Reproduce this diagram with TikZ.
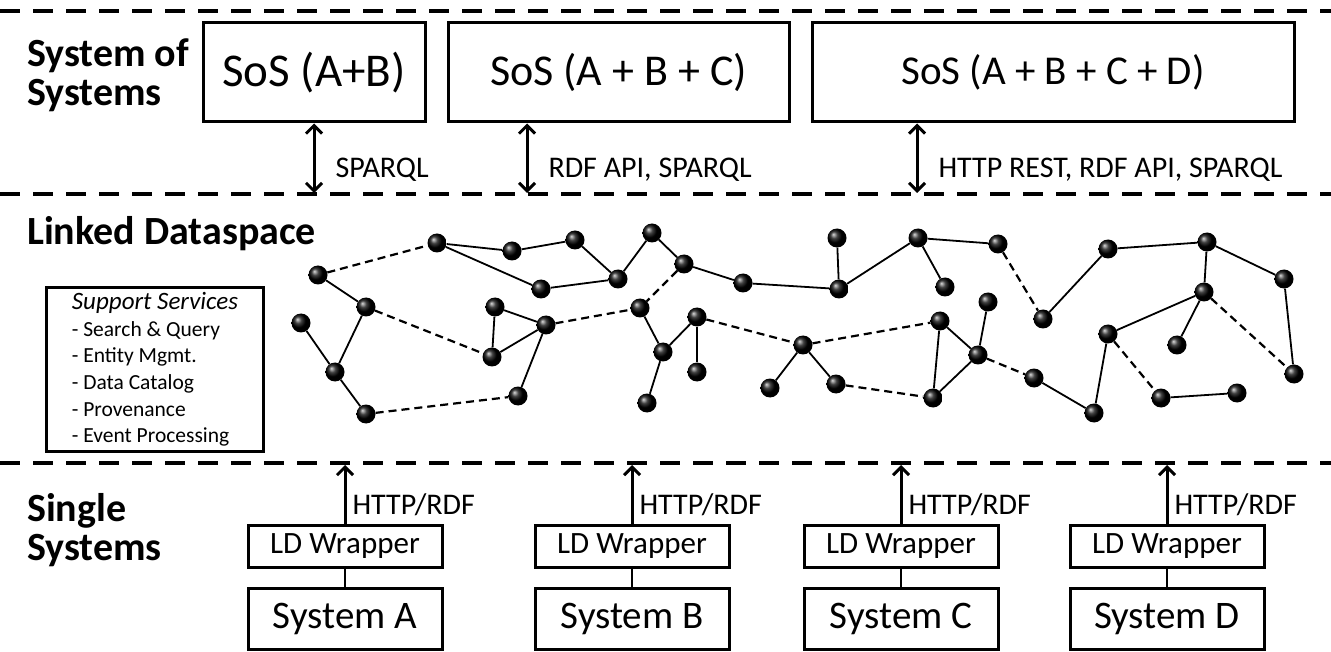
\documentclass[tikz,border=0pt]{standalone}
\usepackage{fontspec}
\setmainfont{Carlito}
\usepackage{tikz}
\usetikzlibrary{positioning,arrows.meta}
\tikzstyle{sosbox} = [rectangle, minimum width=222pt, minimum height=99pt, text centered, draw=black, line width=3pt, font=\fontsize{44}{50}\selectfont]
\tikzstyle{wrapper} = [rectangle, minimum width=194pt, minimum height=42pt, text centered, draw=black, line width=3pt, font=\fontsize{31}{36}\selectfont]
\tikzstyle{sysbox} = [rectangle, minimum width=194pt, minimum height=61pt, text centered, draw=black, line width=3pt, font=\fontsize{39}{44}\selectfont]
\tikzstyle{support} = [rectangle, anchor=north west, draw=black, line width=3pt, align=left, minimum width=217pt, inner xsep=10pt, inner ysep=5pt, minimum height=162pt, font=\fontsize{21.5}{26.6}\selectfont]
\tikzstyle{layer} = [anchor=base west, align=left, inner sep=0pt, font=\bfseries\fontsize{40}{39}\selectfont]
\tikzstyle{proto} = [inner sep=0pt, font=\fontsize{30}{36}\selectfont]
\tikzstyle{separator} = [line width=3.5pt, dash pattern=on 20pt off 13pt]
\tikzstyle{dblarrow} = [line width=3pt, {Straight Barb[length=8pt,width=16pt]}-{Straight Barb[length=8pt,width=16pt]}]
\tikzstyle{uparrow} = [line width=3pt, -{Straight Barb[length=8pt,width=16pt]}]
\tikzstyle{stem} = [line width=2.5pt]
\tikzstyle{datanode} = [circle, minimum size=19pt, inner sep=0pt, shading=ball, ball color=black]
\tikzstyle{link} = [line width=1.8pt]
\tikzstyle{weaklink} = [line width=2.2pt, dash pattern=on 8pt off 5pt]

\begin{document}
\begin{tikzpicture}[x=1pt, y=-1pt]

	\useasboundingbox (0,0) rectangle (1331,652);

	% layers
	\draw [separator] (0,11) -- (1331,11);
	\draw [separator] (0,194) -- (1331,194);
	\draw [separator] (0,463) -- (1331,463);
	\coordinate (midSep) at (0,193);
	\coordinate (lowSep) at (0,465);

	\node (sysOfSys) [layer] at (27,106) {System of\\Systems};
	\node (linkedDS) [layer] at (27,245) {Linked Dataspace};
	\node (singleSys) [layer] at (27,560) {Single\\Systems};

	% system of systems
	\node (sosAB) [sosbox, font=\fontsize{47}{50}\selectfont] at (314,72.5) {SoS (A+B)};
	\node (sosABC) [sosbox, minimum width=341pt, right=20pt of sosAB] {SoS (A + B + C)};
	\node (sosABCD) [sosbox, minimum width=482pt, right=20pt of sosABC, font=\fontsize{41}{50}\selectfont] {SoS (A + B + C + D)};

	\coordinate (abcLink) at (527,193);
	\coordinate (abcdLink) at (917,193);

	\draw [dblarrow] (sosAB.south) -- node [proto, pos=0.67, right=20pt] {SPARQL} (sosAB.south |- midSep);
	\draw [dblarrow] (abcLink |- sosABC.south) -- node [proto, pos=0.67, right=20pt] {RDF API, SPARQL} (abcLink);
	\draw [dblarrow] (abcdLink |- sosABCD.south) -- node [proto, pos=0.67, right=20pt] {HTTP REST, RDF API, SPARQL} (abcdLink);

	% linked dataspace
	\node (support) [support] at (45,286) {{\fontsize{25}{26.6}\selectfont\itshape Support Services}\\- Search \& Query\\- Entity Mgmt.\\- Data Catalog\\- Provenance\\- Event Processing};

	\node (dot01) [datanode] at (318,275) {};
	\node (dot02) [datanode] at (437,243) {};
	\node (dot03) [datanode] at (512,251) {};
	\node (dot04) [datanode] at (541,289) {};
	\node (dot05) [datanode] at (366,307) {};
	\node (dot06) [datanode] at (301,323) {};
	\node (dot07) [datanode] at (335,372) {};
	\node (dot08) [datanode] at (366,414) {};
	\node (dot09) [datanode] at (495,307) {};
	\node (dot10) [datanode] at (546,325) {};
	\node (dot11) [datanode] at (492,357) {};
	\node (dot12) [datanode] at (518,396) {};
	\node (dot13) [datanode] at (575,240) {};
	\node (dot14) [datanode] at (618,279) {};
	\node (dot15) [datanode] at (652,233) {};
	\node (dot16) [datanode] at (684,264) {};
	\node (dot17) [datanode] at (743,283) {};
	\node (dot18) [datanode] at (640,308) {};
	\node (dot19) [datanode] at (697,317) {};
	\node (dot20) [datanode] at (663,352) {};
	\node (dot21) [datanode] at (697,372) {};
	\node (dot22) [datanode] at (647,403) {};
	\node (dot23) [datanode] at (803,345) {};
	\node (dot24) [datanode] at (770,388) {};
	\node (dot25) [datanode] at (839,289) {};
	\node (dot26) [datanode] at (836,384) {};
	\node (dot27) [datanode] at (940,321) {};
	\node (dot28) [datanode] at (837,238) {};
	\node (dot29) [datanode] at (918,238) {};
	\node (dot30) [datanode] at (998,244) {};
	\node (dot31) [datanode] at (945,287) {};
	\node (dot32) [datanode] at (1043,319) {};
	\node (dot33) [datanode] at (988,302) {};
	\node (dot34) [datanode] at (978,355) {};
	\node (dot35) [datanode] at (933,398) {};
	\node (dot36) [datanode] at (1034,378) {};
	\node (dot37) [datanode] at (1108,249) {};
	\node (dot38) [datanode] at (1094,413) {};
	\node (dot39) [datanode] at (1207,242) {};
	\node (dot40) [datanode] at (1284,279) {};
	\node (dot41) [datanode] at (1204,292) {};
	\node (dot42) [datanode] at (1108,334) {};
	\node (dot43) [datanode] at (1177,345) {};
	\node (dot44) [datanode] at (1294,374) {};
	\node (dot45) [datanode] at (1161,398) {};
	\node (dot46) [datanode] at (1237,393) {};

	\draw [link] (dot01) -- (dot05);
	\draw [link] (dot05) -- (dot07);
	\draw [link] (dot06) -- (dot07);
	\draw [link] (dot07) -- (dot08);
	\draw [link] (dot02) -- (dot03);
	\draw [link] (dot02) -- (dot04);
	\draw [link] (dot03) -- (dot13);
	\draw [link] (dot13) -- (dot14);
	\draw [link] (dot04) -- (dot14);
	\draw [link] (dot14) -- (dot15);
	\draw [link] (dot15) -- (dot16);
	\draw [link] (dot16) -- (dot17);
	\draw [link] (dot17) -- (dot25);
	\draw [link] (dot28) -- (dot25);
	\draw [link] (dot25) -- (dot29);
	\draw [link] (dot29) -- (dot30);
	\draw [link] (dot29) -- (dot31);
	\draw [link] (dot09) -- (dot10);
	\draw [link] (dot09) -- (dot11);
	\draw [link] (dot11) -- (dot10);
	\draw [link] (dot10) -- (dot12);
	\draw [link] (dot18) -- (dot20);
	\draw [link] (dot20) -- (dot19);
	\draw [link] (dot19) -- (dot21);
	\draw [link] (dot20) -- (dot22);
	\draw [link] (dot23) -- (dot24);
	\draw [link] (dot23) -- (dot26);
	\draw [link] (dot27) -- (dot35);
	\draw [link] (dot27) -- (dot34);
	\draw [link] (dot34) -- (dot33);
	\draw [link] (dot34) -- (dot35);
	\draw [link] (dot32) -- (dot37);
	\draw [link] (dot37) -- (dot39);
	\draw [link] (dot39) -- (dot40);
	\draw [link] (dot39) -- (dot41);
	\draw [link] (dot40) -- (dot44);
	\draw [link] (dot41) -- (dot42);
	\draw [link] (dot41) -- (dot43);
	\draw [link] (dot42) -- (dot38);
	\draw [link] (dot45) -- (dot46);
	\draw [link] (dot36) -- (dot38);

	\draw [weaklink] (dot01) -- (dot02);
	\draw [weaklink] (dot05) -- (dot11);
	\draw [weaklink] (dot08) -- (dot12);
	\draw [weaklink] (dot10) -- (dot18);
	\draw [weaklink] (dot16) -- (dot18);
	\draw [weaklink] (dot19) -- (dot23);
	\draw [weaklink] (dot23) -- (dot27);
	\draw [weaklink] (dot26) -- (dot35);
	\draw [weaklink] (dot30) -- (dot32);
	\draw [weaklink] (dot34) -- (dot36);
	\draw [weaklink] (dot41) -- (dot44);
	\draw [weaklink] (dot42) -- (dot45);

	% single systems
	\node (wrapA) [wrapper] at (345,546) {LD Wrapper};
	\node (sysA) [sysbox, below=18pt of wrapA] {System A};
	\node (wrapB) [wrapper] at (632,546) {LD Wrapper};
	\node (sysB) [sysbox, below=18pt of wrapB] {System B};
	\node (wrapC) [wrapper] at (901,546) {LD Wrapper};
	\node (sysC) [sysbox, below=18pt of wrapC] {System C};
	\node (wrapD) [wrapper] at (1167,546) {LD Wrapper};
	\node (sysD) [sysbox, below=18pt of wrapD] {System D};

	\draw [stem] (wrapA) -- (sysA);
	\draw [stem] (wrapB) -- (sysB);
	\draw [stem] (wrapC) -- (sysC);
	\draw [stem] (wrapD) -- (sysD);

	\draw [uparrow] (wrapA.north) -- node [proto, pos=0.32, right=6pt] {HTTP/RDF} (wrapA.north |- lowSep);
	\draw [uparrow] (wrapB.north) -- node [proto, pos=0.32, right=6pt] {HTTP/RDF} (wrapB.north |- lowSep);
	\draw [uparrow] (wrapC.north) -- node [proto, pos=0.32, right=6pt] {HTTP/RDF} (wrapC.north |- lowSep);
	\draw [uparrow] (wrapD.north) -- node [proto, pos=0.32, right=6pt] {HTTP/RDF} (wrapD.north |- lowSep);

\end{tikzpicture}
\end{document}
